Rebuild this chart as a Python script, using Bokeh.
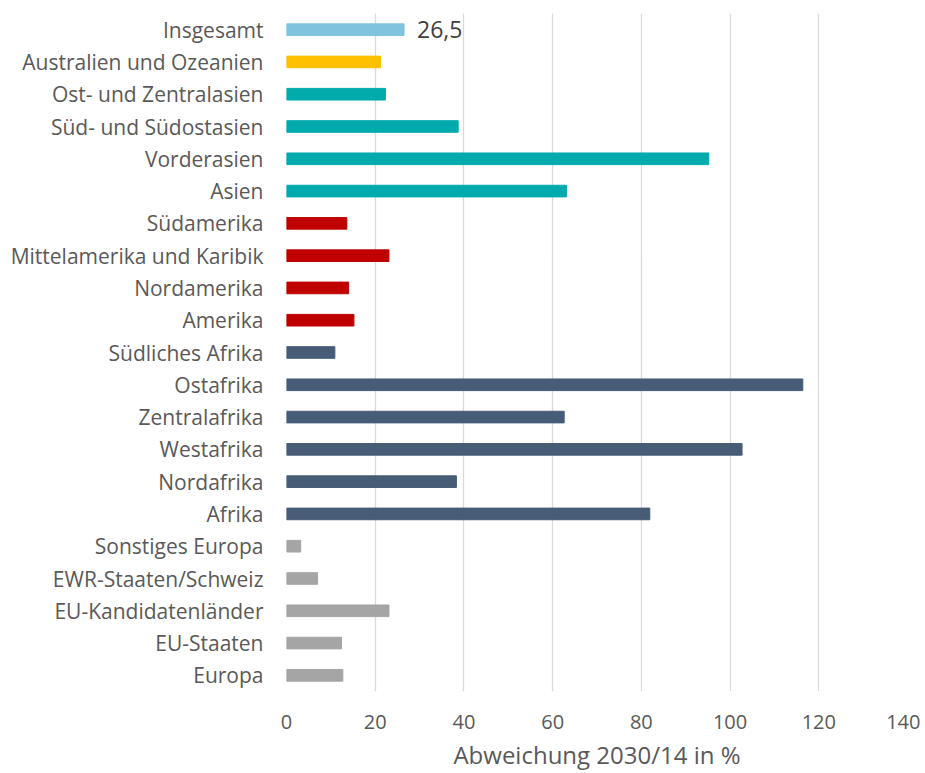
from bokeh.plotting import figure
from bokeh.models import FactorRange, Range1d, ColumnDataSource, FixedTicker
from bokeh.core.properties import value
from bokeh.embed import file_html
from bokeh.resources import INLINE

categories = ["Insgesamt", "Australien und Ozeanien", "Ost- und Zentralasien",
              "Süd- und Südostasien", "Vorderasien", "Asien", "Südamerika",
              "Mittelamerika und Karibik", "Nordamerika", "Amerika",
              "Südliches Afrika", "Ostafrika", "Zentralafrika", "Westafrika",
              "Nordafrika", "Afrika", "Sonstiges Europa", "EWR-Staaten/Schweiz",
              "EU-Kandidatenländer", "EU-Staaten", "Europa"]
values = [26.5, 21.2, 22.3, 38.7, 95.2, 63.1, 13.6, 23.1, 14.0, 15.2,
          10.9, 116.4, 62.6, 102.7, 38.3, 81.9, 3.2, 7.0, 23.1, 12.4, 12.7]
groups = ["Insgesamt", "Ozeanien", "Asien", "Asien", "Asien", "Asien",
          "Amerika", "Amerika", "Amerika", "Amerika",
          "Afrika", "Afrika", "Afrika", "Afrika", "Afrika", "Afrika",
          "Europa", "Europa", "Europa", "Europa", "Europa"]
group_colors = {"Insgesamt": "#7fc3de", "Ozeanien": "#ffc000", "Asien": "#00aaad",
                "Amerika": "#c00000", "Afrika": "#475c77", "Europa": "#a5a5a5"}
x_ticks = [0, 20, 40, 60, 80, 100, 120, 140]
label_text = ["26,5"]
label_value = [26.5]
label_cat = ["Insgesamt"]

colors = [group_colors[g] for g in groups]
src = ColumnDataSource(dict(cat=categories, val=values, color=colors))

p = figure(width=920, height=773, output_backend="svg", toolbar_location=None,
           y_range=FactorRange(*reversed(categories)), x_range=Range1d(0, 140),
           min_border_left=286, min_border_right=13, min_border_top=13,
           min_border_bottom=81)
p.outline_line_color = None
p.background_fill_color = "white"
p.border_fill_color = "white"

p.hbar(y="cat", right="val", left=0, height=0.36, color="color", source=src)

p.text(x=label_value, y=label_cat, text=label_text, x_offset=13,
       text_baseline="middle", text_align="left", text_color="#404040",
       text_font=value("Open Sans"), text_font_size="23px")

p.xgrid.grid_line_color = "#d9d9d9"
p.xgrid.grid_line_width = 1.3
p.xgrid.ticker = FixedTicker(ticks=x_ticks)
p.ygrid.grid_line_color = None

p.xaxis.ticker = FixedTicker(ticks=x_ticks)
p.xaxis.axis_line_color = None
p.xaxis.major_tick_line_color = None
p.xaxis.minor_tick_line_color = None
p.xaxis.major_label_text_font = "Open Sans"
p.xaxis.major_label_text_font_size = "20px"
p.xaxis.major_label_text_color = "#595959"
p.xaxis.major_label_standoff = 17
p.xaxis.axis_label = "Abweichung 2030/14 in %"
p.xaxis.axis_label_text_font = "Open Sans"
p.xaxis.axis_label_text_font_size = "24px"
p.xaxis.axis_label_text_font_style = "normal"
p.xaxis.axis_label_text_color = "#595959"
p.xaxis.axis_label_standoff = 6

p.yaxis.axis_line_color = None
p.yaxis.major_tick_line_color = None
p.yaxis.minor_tick_line_color = None
p.yaxis.major_label_text_font = "Open Sans"
p.yaxis.major_label_text_font_size = "21px"
p.yaxis.major_label_text_color = "#595959"
p.yaxis.major_label_standoff = 17

open("out.html", "w").write(file_html(p, INLINE))
